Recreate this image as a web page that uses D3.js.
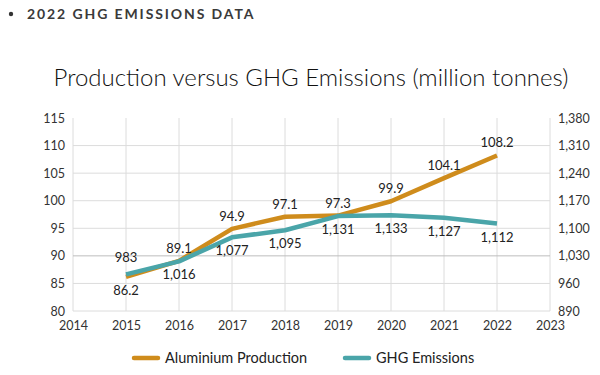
<!DOCTYPE html>
<html>
<head>
<meta charset="utf-8">
<script src="https://cdn.jsdelivr.net/npm/d3@7"></script>
<style>
  body { margin: 0; background: #fff; }
  svg { font-family: Lato, "Noto Sans", sans-serif; }
</style>
</head>
<body>
<div id="chart"></div>
<script>
const years = [2015, 2016, 2017, 2018, 2019, 2020, 2021, 2022];
const production = [86.2, 89.1, 94.9, 97.1, 97.3, 99.9, 104.1, 108.2];
const emissions = [983, 1016, 1077, 1095, 1131, 1133, 1127, 1112];
const leftTicks = [80, 85, 90, 95, 100, 105, 110, 115];
const rightTicks = [890, 960, 1030, 1100, 1170, 1240, 1310, 1380];
const yearTicks = [2014, 2015, 2016, 2017, 2018, 2019, 2020, 2021, 2022, 2023];

const W = 600, H = 375;
const plot = { left: 73, right: 550, top: 118, bottom: 311 };
const orange = "#cf8c1c", teal = "#4aa5a9";

const svg = d3.select("#chart").append("svg")
    .attr("width", W)
    .attr("height", H);

// header
svg.append("circle").attr("cx", 11).attr("cy", 14).attr("r", 2.2).attr("fill", "#333");
svg.append("text")
    .attr("x", 27).attr("y", 19)
    .attr("font-size", 14)
    .attr("font-weight", 700)
    .attr("letter-spacing", 1.9)
    .attr("fill", "#3a3a3a")
    .text("2022 GHG EMISSIONS DATA");

svg.append("text")
    .attr("x", 311).attr("y", 86)
    .attr("text-anchor", "middle")
    .attr("font-size", 24)
    .attr("font-weight", 300)
    .attr("fill", "#111")
    .text("Production versus GHG Emissions (million tonnes)");

const x = d3.scaleLinear().domain([2014, 2023]).range([plot.left, plot.right]);
const yL = d3.scaleLinear().domain([80, 115]).range([plot.bottom, plot.top]);
const yR = d3.scaleLinear().domain([890, 1380]).range([plot.bottom, plot.top]);

// grid
const grid = svg.append("g");
grid.selectAll("line.v")
    .data(yearTicks)
    .join("line")
    .attr("x1", d => x(d)).attr("x2", d => x(d))
    .attr("y1", plot.top).attr("y2", plot.bottom)
    .attr("stroke", "#dcdcdc").attr("stroke-width", 1);
grid.selectAll("line.h")
    .data(leftTicks.slice(0, -1))
    .join("line")
    .attr("x1", plot.left).attr("x2", plot.right)
    .attr("y1", d => yL(d)).attr("y2", d => yL(d))
    .attr("stroke", d => d === 90 ? "#bdbdbd" : "#dcdcdc")
    .attr("stroke-width", 1);

// axes
const axisL = svg.append("g")
    .attr("transform", `translate(${plot.left - 8},0)`)
    .call(d3.axisLeft(yL).tickValues(leftTicks).tickSize(0).tickPadding(0));
const axisR = svg.append("g")
    .attr("transform", `translate(${plot.right + 8},0)`)
    .call(d3.axisRight(yR).tickValues(rightTicks).tickSize(0).tickPadding(0)
        .tickFormat(d3.format(",")));
const axisB = svg.append("g")
    .attr("transform", `translate(0,${plot.bottom + 6})`)
    .call(d3.axisBottom(x).tickValues(yearTicks).tickSize(0).tickPadding(4)
        .tickFormat(d3.format("d")));
[axisL, axisR, axisB].forEach(a => {
    a.select(".domain").remove();
    a.selectAll("text")
        .attr("font-family", "Lato, 'Noto Sans', sans-serif")
        .attr("font-size", 12.5)
        .attr("fill", "#333");
});

// lines
const lineP = d3.line()
    .x((d, i) => x(years[i]))
    .y(d => yL(d));
const lineE = d3.line()
    .x((d, i) => x(years[i]))
    .y(d => yR(d));

svg.append("path")
    .datum(production)
    .attr("d", lineP)
    .attr("fill", "none")
    .attr("stroke", orange)
    .attr("stroke-width", 4.5)
    .attr("stroke-linejoin", "round");
svg.append("path")
    .datum(emissions)
    .attr("d", lineE)
    .attr("fill", "none")
    .attr("stroke", teal)
    .attr("stroke-width", 4.5)
    .attr("stroke-linejoin", "round");

// data labels
svg.append("g").selectAll("text")
    .data(production)
    .join("text")
    .attr("x", (d, i) => x(years[i]))
    .attr("y", (d, i) => yL(d) + (i === 0 ? 18 : -8))
    .attr("text-anchor", "middle")
    .attr("font-size", 13)
    .attr("fill", "#222")
    .text(d => d.toFixed(1));
svg.append("g").selectAll("text")
    .data(emissions)
    .join("text")
    .attr("x", (d, i) => x(years[i]))
    .attr("y", (d, i) => yR(d) + (i === 0 ? -12 : 18))
    .attr("text-anchor", "middle")
    .attr("font-size", 13)
    .attr("fill", "#222")
    .text(d => d3.format(",")(d));

// legend
const legend = [
    { name: "Aluminium Production", color: orange, x: 134 },
    { name: "GHG Emissions", color: teal, x: 345 }
];
const lg = svg.append("g").selectAll("g")
    .data(legend)
    .join("g")
    .attr("transform", d => `translate(${d.x},358)`);
lg.append("line")
    .attr("x1", 0).attr("x2", 24)
    .attr("stroke", d => d.color)
    .attr("stroke-width", 4.5)
    .attr("stroke-linecap", "round");
lg.append("text")
    .attr("x", 31).attr("y", 5)
    .attr("font-size", 14.5)
    .attr("fill", "#222")
    .text(d => d.name);
</script>
</body>
</html>
